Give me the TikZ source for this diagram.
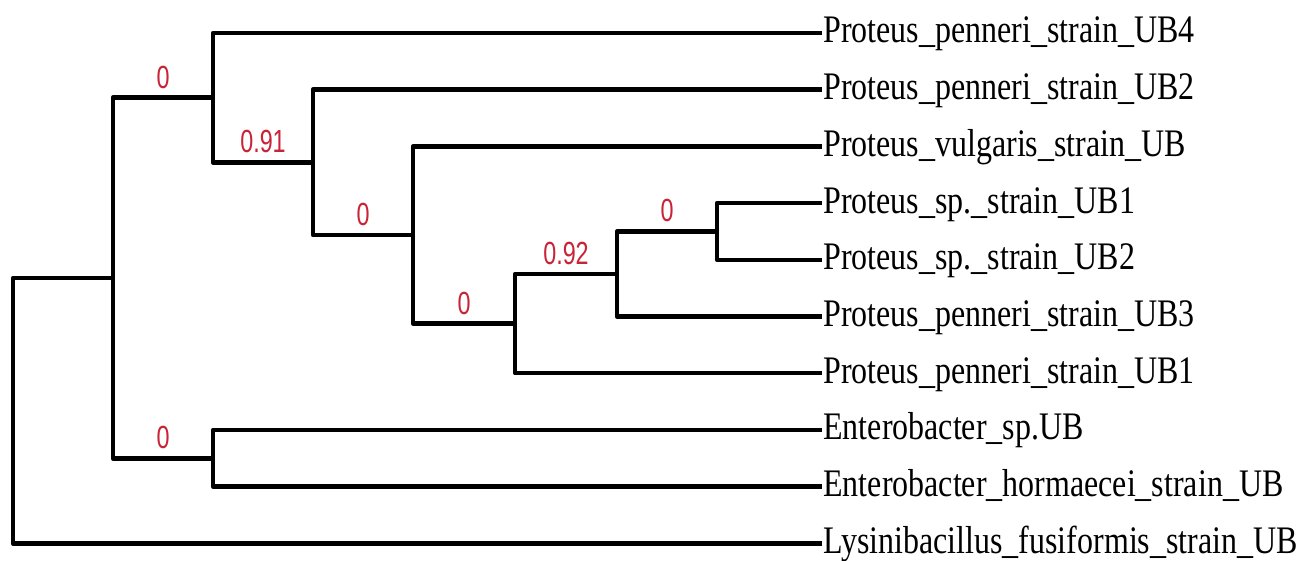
\documentclass[tikz,border=0pt]{standalone}
\usepackage{fontspec}
\setmainfont{Liberation Serif}
\newfontfamily\lsans{Liberation Sans}
\definecolor{bsred}{RGB}{200,35,55}
\begin{document}
\begin{tikzpicture}[x=1pt,y=-1pt,
  br/.style={line width=4.5pt, line join=round},
  leaf/.style={anchor=west, inner xsep=1.5pt, inner ysep=0pt, text height=30pt, text depth=10pt, font=\fontsize{39}{39}\selectfont, xscale=0.82},
  bs/.style={anchor=south, inner sep=0pt, yshift=7pt, font=\lsans\fontsize{32}{32}\selectfont, text=bsred, xscale=0.73}]
\useasboundingbox (0,0) rectangle (1309,561);
% internal nodes
\coordinate (R) at (13,410.6);
\coordinate (A) at (113,278);
\coordinate (B) at (213,97.7);
\coordinate (C) at (313,162.35);
\coordinate (D) at (413,235);
\coordinate (E) at (515,323.6);
\coordinate (F) at (617,274);
\coordinate (G) at (717,231.45);
\coordinate (H) at (213,458.25);
% leaves
\node[leaf] (l1) at (822,33) {Proteus\_penneri\_strain\_UB4};
\node[leaf] (l2) at (822,89.7) {Proteus\_penneri\_strain\_UB2};
\node[leaf] (l3) at (822,146.4) {Proteus\_vulgaris\_strain\_UB};
\node[leaf] (l4) at (822,203.1) {Proteus\_sp.\_strain\_UB1};
\node[leaf] (l5) at (822,259.8) {Proteus\_sp.\_strain\_UB2};
\node[leaf] (l6) at (822,316.5) {Proteus\_penneri\_strain\_UB3};
\node[leaf] (l7) at (822,373.2) {Proteus\_penneri\_strain\_UB1};
\node[leaf] (l8) at (822,429.9) {Enterobacter\_sp.UB};
\node[leaf] (l9) at (822,486.6) {Enterobacter\_hormaecei\_strain\_UB};
\node[leaf] (l10) at (822,543.3) {Lysinibacillus\_fusiformis\_strain\_UB};
% branches
\draw[br] (R) |- (A);
\draw[br] (R) |- (l10.west);
\draw[br] (A) |- (B) node[bs,pos=0.75]{0};
\draw[br] (A) |- (H) node[bs,pos=0.75]{0};
\draw[br] (B) |- (l1.west);
\draw[br] (B) |- (C) node[bs,pos=0.75]{0.91};
\draw[br] (C) |- (l2.west);
\draw[br] (C) |- (D) node[bs,pos=0.75]{0};
\draw[br] (D) |- (l3.west);
\draw[br] (D) |- (E) node[bs,pos=0.75]{0};
\draw[br] (E) |- (F) node[bs,pos=0.75]{0.92};
\draw[br] (E) |- (l7.west);
\draw[br] (F) |- (G) node[bs,pos=0.75]{0};
\draw[br] (F) |- (l6.west);
\draw[br] (G) |- (l4.west);
\draw[br] (G) |- (l5.west);
\draw[br] (H) |- (l8.west);
\draw[br] (H) |- (l9.west);
\end{tikzpicture}
\end{document}
